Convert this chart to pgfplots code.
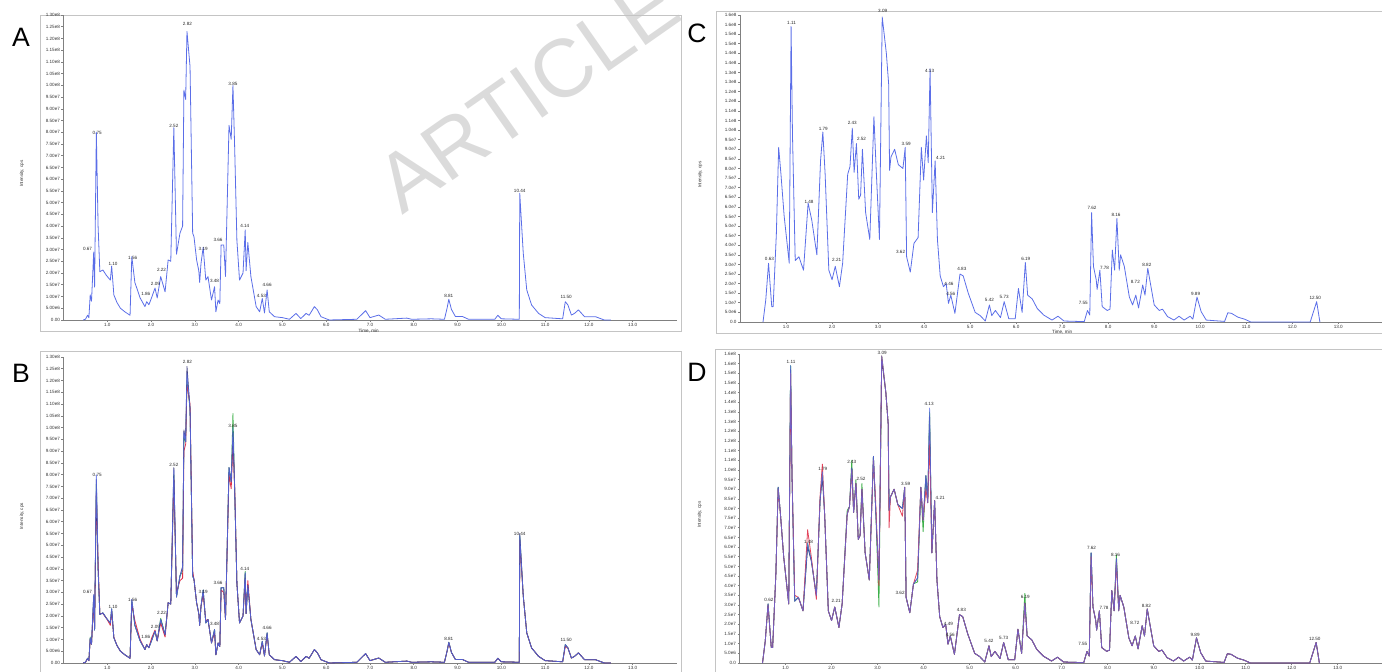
\documentclass[border=0pt]{standalone}
\usepackage{fontspec}
\setmainfont{Liberation Sans}
\usepackage{pgfplots}
\usepackage{pgfplotstable}
\pgfplotsset{compat=1.18}
\definecolor{cblue}{HTML}{5B6EE8}
\definecolor{cred}{HTML}{E0304A}
\definecolor{cgreen}{HTML}{3DB04A}
\definecolor{cnavy}{HTML}{23236E}
\definecolor{frame}{HTML}{C4C4C4}
\newcommand\tickfont{\fontsize{2.3}{2.8}\selectfont}

\pgfplotstableread{
t a r g n
0.45 0 0 0 0
0.50 3e5 3e5 3e5 3e5
0.55 2.0e6 1.8e6 2.0e6 2.0e6
0.58 1.0e6 1.0e6 1.0e6 1.0e6
0.61 1.07e7 1.0e7 1.1e7 1.05e7
0.64 8.0e6 8.0e6 8.0e6 8.0e6
0.69 2.9e7 2.6e7 2.8e7 2.9e7
0.71 1.4e7 1.5e7 1.4e7 1.4e7
0.75 8.0e7 7.2e7 7.6e7 7.8e7
0.79 4.0e7 4.3e7 4.0e7 4.0e7
0.83 2.06e7 2.1e7 2.06e7 2.06e7
0.90 2.13e7 2.1e7 2.13e7 2.13e7
0.98 1.9e7 1.9e7 1.9e7 1.9e7
1.07 1.7e7 1.6e7 1.7e7 1.7e7
1.10 2.3e7 2.2e7 2.3e7 2.3e7
1.15 1.07e7 1.1e7 1.07e7 1.07e7
1.22 7.5e6 7.5e6 7.5e6 7.5e6
1.30 5.0e6 5.0e6 5.0e6 5.0e6
1.40 3.5e6 3.5e6 3.5e6 3.5e6
1.52 2.0e6 2.0e6 2.0e6 2.0e6
1.56 2.7e7 2.5e7 2.6e7 2.7e7
1.63 1.6e7 1.8e7 1.6e7 1.6e7
1.75 9.4e6 1.0e7 9.4e6 9.4e6
1.86 5.7e6 5.7e6 5.7e6 5.7e6
1.90 7.8e6 7.8e6 7.8e6 7.8e6
1.95 6.5e6 6.5e6 6.5e6 6.5e6
2.01 9.4e6 1.05e7 9.4e6 9.4e6
2.09 1.36e7 1.4e7 1.36e7 1.36e7
2.14 9.4e6 9.4e6 9.4e6 9.4e6
2.22 1.85e7 1.7e7 1.9e7 1.85e7
2.32 1.2e7 1.1e7 1.2e7 1.2e7
2.39 2.56e7 2.56e7 2.56e7 2.56e7
2.45 2.5e7 2.5e7 2.5e7 2.5e7
2.52 8.2e7 7.8e7 8.0e7 8.3e7
2.58 2.8e7 3.0e7 2.8e7 2.8e7
2.66 3.7e7 3.5e7 3.7e7 3.7e7
2.72 4.0e7 3.6e7 3.9e7 4.1e7
2.75 9.8e7 9.0e7 9.6e7 9.9e7
2.79 9.4e7 9.3e7 9.4e7 9.4e7
2.82 1.23e8 1.18e8 1.20e8 1.26e8
2.89 1.08e8 1.10e8 1.08e8 1.08e8
2.95 3.7e7 3.9e7 3.7e7 3.7e7
2.98 3.55e7 3.55e7 3.55e7 3.55e7
3.04 2.56e7 2.56e7 2.56e7 2.56e7
3.09 2.1e7 2.1e7 2.1e7 2.1e7
3.11 1.6e7 1.6e7 1.6e7 1.6e7
3.14 2.4e7 2.4e7 2.4e7 2.4e7
3.19 3.1e7 2.9e7 3.1e7 3.1e7
3.25 1.7e7 1.8e7 1.7e7 1.7e7
3.30 1.85e7 1.85e7 1.85e7 1.85e7
3.38 8.5e6 8.5e6 8.5e6 8.5e6
3.45 1.42e7 1.3e7 1.42e7 1.42e7
3.48 3.5e6 3.5e6 3.5e6 3.5e6
3.53 8.5e6 8.5e6 8.5e6 8.5e6
3.57 7.0e6 7.0e6 7.0e6 7.0e6
3.60 3.2e7 3.1e7 3.2e7 3.2e7
3.66 3.2e7 3.0e7 3.2e7 3.2e7
3.70 1.85e7 1.85e7 1.85e7 1.85e7
3.78 8.3e7 8.0e7 8.3e7 8.3e7
3.83 7.7e7 7.4e7 7.7e7 7.7e7
3.87 1.0e8 9.3e7 1.06e8 9.8e7
3.91 7.3e7 7.5e7 7.3e7 7.3e7
3.96 3.4e7 3.4e7 3.4e7 3.4e7
4.02 1.7e7 1.7e7 1.7e7 1.7e7
4.10 2.0e7 2.0e7 2.0e7 2.0e7
4.15 3.84e7 3.6e7 3.9e7 3.8e7
4.17 2.1e7 2.1e7 2.1e7 2.1e7
4.21 3.3e7 3.5e7 3.3e7 3.3e7
4.28 1.85e7 1.85e7 1.85e7 1.85e7
4.40 5.7e6 5.7e6 5.7e6 5.7e6
4.48 3.5e6 3.5e6 3.5e6 3.5e6
4.54 9.2e6 8.5e6 9.2e6 9.2e6
4.59 3.0e6 3.0e6 3.0e6 3.0e6
4.65 1.28e7 1.2e7 1.28e7 1.28e7
4.70 3.5e6 3.5e6 3.5e6 3.5e6
4.82 1.4e6 1.4e6 1.4e6 1.4e6
5.00 1.0e6 1.0e6 1.0e6 1.0e6
5.16 3e5 3e5 3e5 3e5
5.31 2.8e6 2.8e6 2.8e6 2.8e6
5.42 6e5 6e5 6e5 6e5
5.54 2.8e6 2.8e6 2.8e6 2.8e6
5.61 2.0e6 2.0e6 2.0e6 2.0e6
5.73 5.7e6 5.7e6 5.7e6 5.7e6
5.80 4.3e6 4.3e6 4.3e6 4.3e6
5.88 1.4e6 1.4e6 1.4e6 1.4e6
6.07 0 0 0 0
6.70 3e5 3e5 3e5 3e5
6.90 4.0e6 4.0e6 4.0e6 4.0e6
7.00 1.0e6 1.0e6 1.0e6 1.0e6
7.20 2.1e6 2.1e6 2.1e6 2.1e6
7.35 3e5 3e5 3e5 3e5
7.84 8e5 8e5 8e5 8e5
7.95 3e5 3e5 3e5 3e5
8.40 5e5 5e5 5e5 5e5
8.70 3e5 3e5 3e5 3e5
8.76 5.0e6 5.0e6 5.0e6 5.0e6
8.80 8.8e6 8.5e6 8.8e6 8.8e6
8.86 4.5e6 4.5e6 4.5e6 4.5e6
8.95 1.5e6 1.5e6 1.5e6 1.5e6
9.11 1.5e6 1.5e6 1.5e6 1.5e6
9.25 3e5 3e5 3e5 3e5
9.85 3e5 3e5 3e5 3e5
9.92 2.0e6 2.0e6 2.0e6 2.0e6
10.00 5e5 5e5 5e5 5e5
10.41 3e5 3e5 3e5 3e5
10.42 5.4e7 5.2e7 5.4e7 5.5e7
10.50 2.85e7 2.85e7 2.85e7 2.85e7
10.58 1.28e7 1.28e7 1.28e7 1.28e7
10.69 6.4e6 6.4e6 6.4e6 6.4e6
10.85 2.8e6 2.8e6 2.8e6 2.8e6
11.00 1.0e6 1.0e6 1.0e6 1.0e6
11.40 5e5 5e5 5e5 5e5
11.46 7.8e6 7.0e6 7.8e6 7.8e6
11.52 6.4e6 6.4e6 6.4e6 6.4e6
11.60 2.1e6 2.1e6 2.1e6 2.1e6
11.67 2.8e6 2.8e6 2.8e6 2.8e6
11.76 4.3e6 4.3e6 4.3e6 4.3e6
11.90 1.4e6 1.4e6 1.4e6 1.4e6
12.15 1.4e6 1.4e6 1.4e6 1.4e6
12.35 0 0 0 0
12.50 0 0 0 0
}\tabAB

\pgfplotstableread{
t c r g n
0.50 0 0 0 0
0.56 1.15e7 1.15e7 1.15e7 1.15e7
0.62 3.06e7 3.0e7 3.06e7 3.06e7
0.69 8.0e6 8.0e6 8.0e6 8.0e6
0.72 8.0e6 8.0e6 8.0e6 8.0e6
0.79 4.6e7 4.6e7 4.6e7 4.6e7
0.84 9.1e7 9.0e7 9.1e7 9.1e7
0.89 7.7e7 7.7e7 7.7e7 7.7e7
0.96 5.5e7 5.5e7 5.5e7 5.5e7
1.07 3.06e7 3.06e7 3.06e7 3.06e7
1.11 1.54e8 1.50e8 1.54e8 1.52e8
1.14 9.8e7 9.8e7 9.8e7 9.8e7
1.20 3.2e7 3.5e7 3.2e7 3.2e7
1.28 3.4e7 3.4e7 3.4e7 3.4e7
1.38 2.7e7 2.7e7 2.7e7 2.7e7
1.48 6.2e7 6.9e7 6.2e7 6.0e7
1.56 5.3e7 5.5e7 5.3e7 5.3e7
1.67 3.5e7 3.3e7 3.5e7 3.5e7
1.75 8.4e7 8.6e7 8.4e7 8.4e7
1.80 9.9e7 1.03e8 9.9e7 9.6e7
1.85 7.7e7 7.7e7 7.7e7 7.7e7
1.93 2.7e7 2.7e7 2.7e7 2.7e7
2.00 2.2e7 2.2e7 2.2e7 2.2e7
2.07 2.9e7 2.9e7 2.9e7 2.9e7
2.16 1.84e7 1.84e7 1.84e7 1.84e7
2.23 3.06e7 3.06e7 3.06e7 3.06e7
2.34 7.7e7 7.7e7 7.9e7 7.7e7
2.39 8.1e7 8.1e7 8.1e7 8.1e7
2.44 1.01e8 1.0e8 1.05e8 1.01e8
2.48 7.8e7 7.8e7 7.8e7 7.8e7
2.53 9.3e7 9.3e7 9.5e7 9.3e7
2.58 6.4e7 6.4e7 6.4e7 6.4e7
2.62 6.6e7 6.6e7 6.6e7 6.6e7
2.66 9.0e7 9.0e7 9.3e7 9.0e7
2.73 5.7e7 5.7e7 5.7e7 5.7e7
2.82 4.3e7 4.3e7 4.3e7 4.3e7
2.91 1.07e8 1.05e8 1.07e8 1.07e8
2.96 7.9e7 8.3e7 7.9e7 7.9e7
3.03 4.3e7 4.0e7 2.9e7 4.3e7
3.09 1.59e8 1.59e8 1.59e8 1.57e8
3.18 1.40e8 1.40e8 1.40e8 1.40e8
3.23 1.24e8 1.24e8 1.24e8 1.24e8
3.25 7.9e7 7.0e7 7.9e7 7.9e7
3.28 8.6e7 8.6e7 8.6e7 8.6e7
3.36 9.0e7 9.0e7 9.0e7 9.0e7
3.44 8.2e7 8.2e7 8.2e7 8.2e7
3.54 8.0e7 7.6e7 8.0e7 8.0e7
3.59 9.1e7 9.1e7 9.1e7 9.1e7
3.62 3.4e7 3.4e7 3.4e7 3.4e7
3.70 2.6e7 2.6e7 2.6e7 2.6e7
3.78 4.1e7 4.1e7 4.1e7 4.1e7
3.87 4.4e7 4.8e7 4.2e7 4.4e7
3.94 9.1e7 9.1e7 9.1e7 9.1e7
3.99 7.4e7 7.4e7 6.8e7 7.4e7
4.05 9.7e7 9.0e7 9.7e7 9.7e7
4.09 8.3e7 8.3e7 8.3e7 8.3e7
4.13 1.32e8 1.15e8 1.30e8 1.28e8
4.18 5.7e7 5.7e7 5.7e7 5.7e7
4.24 8.4e7 8.4e7 8.4e7 8.4e7
4.29 4.3e7 4.3e7 4.3e7 4.3e7
4.35 2.4e7 2.4e7 2.4e7 2.4e7
4.42 1.84e7 1.84e7 1.84e7 1.84e7
4.48 2.0e7 2.0e7 2.0e7 2.0e7
4.53 9.7e6 9.7e6 9.7e6 9.7e6
4.58 1.4e7 1.4e7 1.4e7 1.4e7
4.67 4.5e6 4.5e6 4.5e6 4.5e6
4.78 2.5e7 2.5e7 2.5e7 2.5e7
4.85 2.4e7 2.4e7 2.4e7 2.4e7
4.96 1.5e7 1.5e7 1.5e7 1.5e7
5.11 5.0e6 5.0e6 5.0e6 5.0e6
5.22 3.3e6 3.3e6 3.3e6 3.3e6
5.33 5e5 5e5 5e5 5e5
5.42 8.9e6 8.9e6 8.9e6 8.9e6
5.47 3.3e6 3.3e6 3.3e6 3.3e6
5.55 6.0e6 6.0e6 6.0e6 6.0e6
5.66 2.3e6 2.3e6 2.3e6 2.3e6
5.74 1.06e7 1.06e7 1.06e7 1.06e7
5.84 1.7e6 1.7e6 1.7e6 1.7e6
5.98 1.7e6 1.7e6 1.7e6 1.7e6
6.05 1.75e7 1.75e7 1.75e7 1.75e7
6.13 5.0e6 5.0e6 5.0e6 5.0e6
6.20 3.1e7 3.1e7 3.6e7 3.1e7
6.25 1.4e7 1.4e7 1.4e7 1.4e7
6.35 1.2e7 1.2e7 1.2e7 1.2e7
6.46 7.0e6 7.0e6 7.0e6 7.0e6
6.60 3.6e6 3.6e6 3.6e6 3.6e6
6.78 1.0e6 1.0e6 1.0e6 1.0e6
6.91 3.0e6 3.0e6 3.0e6 3.0e6
7.04 5e5 5e5 5e5 5e5
7.48 2e5 2e5 2e5 2e5
7.55 6.0e6 6.0e6 6.0e6 6.0e6
7.60 3.6e6 3.6e6 3.6e6 3.6e6
7.64 5.7e7 5.5e7 5.7e7 5.7e7
7.68 2.9e7 2.9e7 2.9e7 2.9e7
7.74 2.2e7 2.2e7 2.2e7 2.2e7
7.76 1.7e7 1.7e7 1.7e7 1.7e7
7.82 2.7e7 2.7e7 2.7e7 2.7e7
7.87 8.0e6 8.0e6 8.0e6 8.0e6
7.98 6.0e6 6.0e6 6.0e6 6.0e6
8.04 6.7e6 6.7e6 6.7e6 6.7e6
8.09 3.75e7 3.75e7 3.75e7 3.75e7
8.14 2.7e7 2.7e7 2.7e7 2.7e7
8.19 5.4e7 5.2e7 5.6e7 5.4e7
8.24 2.7e7 2.7e7 2.7e7 2.7e7
8.27 3.5e7 3.5e7 3.5e7 3.5e7
8.35 2.9e7 2.9e7 2.9e7 2.9e7
8.46 1.3e7 1.3e7 1.3e7 1.3e7
8.53 8.9e6 8.9e6 8.9e6 8.9e6
8.60 1.4e7 1.4e7 1.4e7 1.4e7
8.66 7.3e6 7.3e6 7.3e6 7.3e6
8.75 1.93e7 1.93e7 1.93e7 1.93e7
8.80 1.4e7 1.4e7 1.4e7 1.4e7
8.86 2.8e7 2.8e7 2.8e7 2.8e7
8.93 1.84e7 1.84e7 1.84e7 1.84e7
9.00 8.9e6 8.9e6 8.9e6 8.9e6
9.11 6.0e6 6.0e6 6.0e6 6.0e6
9.18 6.7e6 6.7e6 6.7e6 6.7e6
9.29 2.8e6 2.8e6 2.8e6 2.8e6
9.43 1.0e6 1.0e6 1.0e6 1.0e6
9.54 3.0e6 3.0e6 3.0e6 3.0e6
9.65 1.0e6 1.0e6 1.0e6 1.0e6
9.78 3.0e6 3.0e6 3.0e6 3.0e6
9.84 1.5e6 1.5e6 1.5e6 1.5e6
9.93 1.3e7 1.3e7 1.3e7 1.3e7
10.02 5.4e6 5.4e6 5.4e6 5.4e6
10.13 1.0e6 1.0e6 1.0e6 1.0e6
10.53 3e5 3e5 3e5 3e5
10.60 4.8e6 4.8e6 4.8e6 4.8e6
10.68 4.5e6 4.5e6 4.5e6 4.5e6
10.82 2.5e6 2.5e6 2.5e6 2.5e6
10.96 1.5e6 1.5e6 1.5e6 1.5e6
11.10 0 0 0 0
12.39 0 0 0 0
12.53 1.06e7 1.06e7 1.06e7 1.06e7
12.60 0 0 0 0
}\tabCD

\tikzset{lbl/.style={font=\tickfont, text=black!85, inner sep=0pt, anchor=center}}
\pgfplotsset{
  chrom/.style={
    scale only axis, clip=false,
    xmin=0, ymin=0,
    axis x line=bottom, axis y line=left,
    axis line style={-, draw=black!50, line width=0.35pt},
    xtick={1,2,3,4,5,6,7,8,9,10,11,12,13},
    xticklabel style={/pgf/number format/.cd, fixed, fixed zerofill, precision=1},
    /pgf/number format/assume math mode=true,
    scaled y ticks=false, scaled x ticks=false,
    tick align=outside, major tick length=1pt,
    tick style={draw=black!50, line width=0.3pt},
    tick label style={font=\tickfont, text=black!80, inner sep=0.6pt},
    ylabel={Intensity, cps},
    every axis plot/.append style={line width=0.4pt, line join=round, mark=none},
  },
  ytAB/.style={
    ytick={0,5e6,1e7,1.5e7,2e7,2.5e7,3e7,3.5e7,4e7,4.5e7,5e7,5.5e7,6e7,6.5e7,7e7,7.5e7,8e7,8.5e7,9e7,9.5e7,1e8,1.05e8,1.1e8,1.15e8,1.2e8,1.25e8,1.3e8},
    yticklabels={0.00,5.00e6,1.00e7,1.50e7,2.00e7,2.50e7,3.00e7,3.50e7,4.00e7,4.50e7,5.00e7,5.50e7,6.00e7,6.50e7,7.00e7,7.50e7,8.00e7,8.50e7,9.00e7,9.50e7,1.00e8,1.05e8,1.10e8,1.15e8,1.20e8,1.25e8,1.30e8},
    xmax=14, ymax=1.3e8,
    ylabel style={font=\tickfont, text=black!80, at={(axis description cs:-0.068,0.48)}, anchor=center},
  },
  ytCD/.style={
    ytick={0,5e6,1e7,1.5e7,2e7,2.5e7,3e7,3.5e7,4e7,4.5e7,5e7,5.5e7,6e7,6.5e7,7e7,7.5e7,8e7,8.5e7,9e7,9.5e7,1e8,1.05e8,1.1e8,1.15e8,1.2e8,1.25e8,1.3e8,1.35e8,1.4e8,1.45e8,1.5e8,1.55e8,1.6e8},
    yticklabels={0.0,5.0e6,1.0e7,1.5e7,2.0e7,2.5e7,3.0e7,3.5e7,4.0e7,4.5e7,5.0e7,5.5e7,6.0e7,6.5e7,7.0e7,7.5e7,8.0e7,8.5e7,9.0e7,9.5e7,1.0e8,1.1e8,1.1e8,1.2e8,1.2e8,1.3e8,1.3e8,1.4e8,1.4e8,1.5e8,1.5e8,1.6e8,1.6e8},
    xmax=13.95, ymax=1.6e8,
    ylabel style={font=\tickfont, text=black!80, at={(axis description cs:-0.062,0.48)}, anchor=center},
  },
}
\newcommand\pk[3]{\node[lbl] at (axis cs:#1,#2) {#3};}

\begin{document}
\begin{tikzpicture}[x=1pt,y=1pt]
\useasboundingbox (0,0) rectangle (691,336);
% watermark (behind everything)
\node[rotate=35, text=black!14, font=\fontsize{41}{41}\selectfont] at (264,289) {ARTICLE};
% frames
\draw[frame, line width=0.5pt] (20,328) rectangle (340.5,170);
\draw[frame, line width=0.5pt] (20,-1) -- (20,160) -- (340.5,160) -- (340.5,-1);
\draw[frame, line width=0.5pt] (692,330) -- (358,330) -- (358,169) -- (692,169);
\draw[frame, line width=0.5pt] (357.5,-1) -- (357.5,161) -- (692,161);
% panel letters
\node[font=\fontsize{13.3}{14}\selectfont] at (10.5,317.5) {A};
\node[font=\fontsize{13.3}{14}\selectfont] at (10.5,149.5) {B};
\node[font=\fontsize{13.3}{14}\selectfont] at (348.5,319.5) {C};
\node[font=\fontsize{13.3}{14}\selectfont] at (348.5,150) {D};

% ---------- A ----------
\begin{axis}[chrom, ytAB, at={(31.75pt,176pt)}, anchor=south west,
  width=306.5pt, height=152.5pt]
\addplot[draw=cblue] table[x=t,y=a]{\tabAB};
\pk{0.55}{3.02e7}{0.67}
\pk{0.77}{7.97e7}{0.75}
\pk{1.13}{2.38e7}{1.10}
\pk{1.58}{2.66e7}{1.56}
\pk{1.88}{1.11e7}{1.86}
\pk{2.10}{1.52e7}{2.09}
\pk{2.24}{2.13e7}{2.22}
\pk{2.52}{8.29e7}{2.52}
\pk{2.83}{1.264e8}{2.82}
\pk{3.19}{3.04e7}{3.19}
\pk{3.45}{1.66e7}{3.48}
\pk{3.53}{3.41e7}{3.66}
\pk{3.87}{1.006e8}{3.85}
\pk{4.14}{4.0e7}{4.14}
\pk{4.52}{1.02e7}{4.53}
\pk{4.65}{1.48e7}{4.66}
\pk{8.80}{1.02e7}{8.81}
\pk{10.42}{5.5e7}{10.44}
\pk{11.48}{9.9e6}{11.50}
\node[lbl] at (axis cs:6.97,0) [yshift=-5.5pt] {Time, min};
\end{axis}

% ---------- B ----------
\begin{axis}[chrom, ytAB, at={(31.75pt,4.5pt)}, anchor=south west,
  width=306.5pt, height=153pt]
\addplot[draw=cgreen] table[x=t,y=g]{\tabAB};
\addplot[draw=cred] table[x=t,y=r]{\tabAB};
\addplot[draw=cnavy, opacity=0.85] table[x=t,y=n]{\tabAB};
\addplot[draw=cblue, opacity=0.8] table[x=t,y=a]{\tabAB};
\pk{0.55}{3.02e7}{0.67}
\pk{0.77}{7.97e7}{0.75}
\pk{1.13}{2.38e7}{1.10}
\pk{1.58}{2.66e7}{1.56}
\pk{1.88}{1.11e7}{1.86}
\pk{2.10}{1.52e7}{2.09}
\pk{2.24}{2.13e7}{2.22}
\pk{2.52}{8.4e7}{2.52}
\pk{2.83}{1.28e8}{2.82}
\pk{3.19}{3.04e7}{3.19}
\pk{3.45}{1.66e7}{3.48}
\pk{3.53}{3.41e7}{3.66}
\pk{3.87}{1.006e8}{3.85}
\pk{4.14}{4.0e7}{4.14}
\pk{4.52}{1.02e7}{4.53}
\pk{4.65}{1.48e7}{4.66}
\pk{8.80}{1.02e7}{8.81}
\pk{10.42}{5.5e7}{10.44}
\pk{11.48}{9.9e6}{11.50}
\end{axis}

% ---------- C ----------
\begin{axis}[chrom, ytCD, at={(370pt,175pt)}, anchor=south west,
  width=321pt, height=153.5pt]
\addplot[draw=cblue] table[x=t,y=c]{\tabCD};
\pk{0.64}{3.28e7}{0.63}
\pk{1.12}{1.56e8}{1.11}
\pk{1.50}{6.27e7}{1.48}
\pk{1.81}{1.005e8}{1.79}
\pk{2.10}{3.23e7}{2.21}
\pk{2.44}{1.04e8}{2.43}
\pk{2.64}{9.53e7}{2.52}
\pk{3.10}{1.62e8}{3.09}
\pk{3.61}{9.27e7}{3.59}
\pk{3.49}{3.63e7}{3.62}
\pk{4.12}{1.31e8}{4.13}
\pk{4.36}{8.56e7}{4.21}
\pk{4.54}{2.0e7}{4.46}
\pk{4.58}{1.45e7}{4.56}
\pk{4.82}{2.75e7}{4.83}
\pk{5.42}{1.15e7}{5.42}
\pk{5.74}{1.3e7}{5.73}
\pk{6.21}{3.3e7}{6.19}
\pk{7.46}{1.0e7}{7.55}
\pk{7.65}{5.95e7}{7.62}
\pk{7.92}{2.83e7}{7.78}
\pk{8.17}{5.6e7}{8.16}
\pk{8.59}{2.1e7}{8.72}
\pk{8.84}{2.97e7}{8.82}
\pk{9.90}{1.44e7}{9.89}
\pk{12.50}{1.25e7}{12.50}
\node[lbl] at (axis cs:7.0,0) [yshift=-5pt] {Time, min};
\end{axis}

% ---------- D ----------
\begin{axis}[chrom, ytCD, at={(369.75pt,4.5pt)}, anchor=south west,
  width=321pt, height=154.5pt]
\addplot[draw=cgreen] table[x=t,y=g]{\tabCD};
\addplot[draw=cnavy, opacity=0.85] table[x=t,y=n]{\tabCD};
\addplot[draw=cred, opacity=0.9] table[x=t,y=r]{\tabCD};
\addplot[draw=cblue, opacity=0.75] table[x=t,y=c]{\tabCD};
\pk{0.64}{3.28e7}{0.62}
\pk{1.12}{1.56e8}{1.11}
\pk{1.50}{6.27e7}{1.48}
\pk{1.81}{1.005e8}{1.79}
\pk{2.10}{3.23e7}{2.21}
\pk{2.44}{1.04e8}{2.43}
\pk{2.64}{9.53e7}{2.52}
\pk{3.10}{1.605e8}{3.09}
\pk{3.61}{9.27e7}{3.59}
\pk{3.49}{3.63e7}{3.62}
\pk{4.12}{1.34e8}{4.13}
\pk{4.36}{8.56e7}{4.21}
\pk{4.54}{2.0e7}{4.49}
\pk{4.58}{1.45e7}{4.56}
\pk{4.82}{2.75e7}{4.83}
\pk{5.42}{1.15e7}{5.42}
\pk{5.74}{1.3e7}{5.73}
\pk{6.21}{3.4e7}{6.19}
\pk{7.46}{1.0e7}{7.55}
\pk{7.65}{5.95e7}{7.62}
\pk{7.92}{2.83e7}{7.78}
\pk{8.17}{5.6e7}{8.16}
\pk{8.59}{2.1e7}{8.72}
\pk{8.84}{2.97e7}{8.82}
\pk{9.90}{1.44e7}{9.89}
\pk{12.50}{1.25e7}{12.50}
\end{axis}
\end{tikzpicture}
\end{document}
